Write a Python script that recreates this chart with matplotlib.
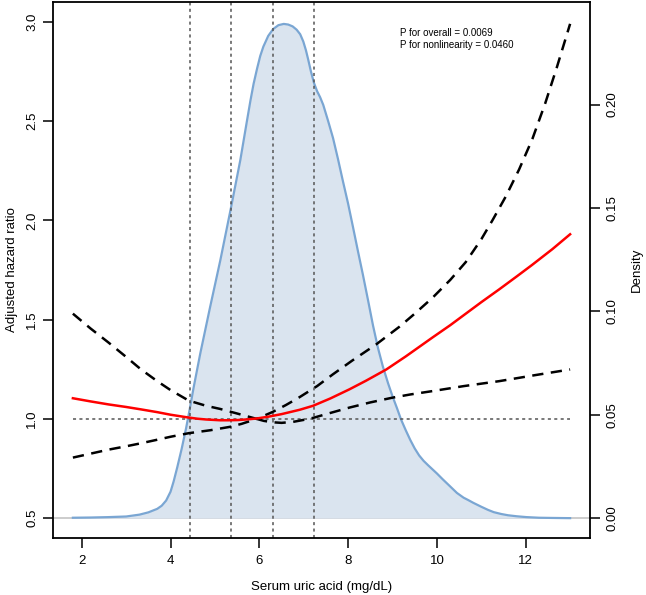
import matplotlib
matplotlib.use("Agg")
import matplotlib.pyplot as plt

plt.rcParams['font.family'] = ['Liberation Sans', 'DejaVu Sans']

# serum uric acid density (mg/dL, density)
dens_x = [1.8, 2.2, 2.6, 3.0, 3.3, 3.5, 3.7, 3.8, 3.9, 4.0, 4.07, 4.15, 4.25, 4.35, 4.43,
          4.52, 4.67, 4.89, 5.12, 5.36, 5.57, 5.72, 5.8, 5.87, 5.95, 6.02, 6.09, 6.2, 6.31,
          6.43, 6.55, 6.65, 6.75, 6.84, 6.92, 6.99, 7.05, 7.1, 7.16, 7.23, 7.3, 7.37, 7.44,
          7.55, 7.66, 7.77, 7.88, 8.0, 8.11, 8.22, 8.33, 8.45, 8.56, 8.67, 8.78, 8.9, 9.0,
          9.1, 9.19, 9.3, 9.4, 9.5, 9.6, 9.7, 9.8, 9.9, 10.0, 10.13, 10.3, 10.45, 10.6, 10.7,
          10.82, 11.0, 11.15, 11.28, 11.45, 11.6, 11.8, 12.02, 12.3, 12.6, 13.0]
dens_y = [0.0002, 0.0003, 0.0005, 0.0008, 0.0017, 0.0028, 0.0045, 0.006, 0.0085, 0.0128,
          0.0178, 0.0245, 0.0335, 0.0435, 0.0525, 0.0632, 0.0797, 0.102, 0.1246, 0.150,
          0.173, 0.192, 0.202, 0.210, 0.2175, 0.2235, 0.228, 0.2332, 0.2365, 0.2384, 0.239,
          0.2387, 0.2378, 0.2362, 0.234, 0.2305, 0.2262, 0.2218, 0.2162, 0.2105, 0.2065,
          0.2035, 0.1998, 0.192, 0.1838, 0.1738, 0.1632, 0.152, 0.1407, 0.1292, 0.118,
          0.1052, 0.0932, 0.0825, 0.0735, 0.0652, 0.0589, 0.0532, 0.0478, 0.0424, 0.0378,
          0.0337, 0.0303, 0.0277, 0.0256, 0.0236, 0.0216, 0.0188, 0.0153, 0.0122, 0.0099,
          0.0088, 0.0074, 0.0055, 0.0040, 0.0029, 0.0020, 0.0014, 0.0009, 0.0005, 0.0002,
          0.0001, 0.0]

# spline: hazard ratio and 95% CI
hr_x = [1.8, 2.2, 2.6, 3.0, 3.33, 3.7, 4.0, 4.37, 4.6, 4.8, 5.12, 5.3, 5.5, 5.7, 5.94,
        6.2, 6.5, 6.91, 7.21, 7.6, 8.03, 8.4, 8.86, 9.3, 9.9, 10.3, 10.65, 11.0, 11.4,
        11.8, 12.14, 12.6, 13.0]
hr = [1.104, 1.088, 1.073, 1.060, 1.048, 1.034, 1.021, 1.008, 1.001, 0.997, 0.993, 0.993,
      0.994, 0.997, 1.002, 1.011, 1.024, 1.046, 1.066, 1.103, 1.149, 1.192, 1.249, 1.315,
      1.41, 1.472, 1.53, 1.588, 1.652, 1.718, 1.775, 1.855, 1.93]

up_x = [1.8, 2.2, 2.6, 3.0, 3.33, 3.7, 4.0, 4.41, 4.8, 5.12, 5.5, 5.94, 6.3, 6.6, 6.91,
        7.3, 7.66, 8.1, 8.63, 9.16, 9.5, 9.9, 10.3, 10.65, 11.0, 11.25, 11.55, 11.85,
        12.15, 12.44, 12.7, 13.0]
upper = [1.53, 1.455, 1.385, 1.312, 1.25, 1.19, 1.145, 1.092, 1.066, 1.05, 1.027, 1.0,
         1.035, 1.07, 1.11, 1.165, 1.225, 1.295, 1.375, 1.465, 1.53, 1.61, 1.70, 1.79,
         1.905, 2.0, 2.12, 2.256, 2.41, 2.59, 2.77, 2.99]

lo_x = [1.8, 2.2, 2.6, 3.0, 3.33, 3.7, 4.0, 4.41, 4.9, 5.34, 5.6, 5.94, 6.1, 6.3, 6.5,
        6.76, 7.0, 7.21, 7.6, 8.03, 8.5, 9.0, 9.4, 9.9, 10.6, 11.4, 12.2, 13.0]
lower = [0.805, 0.825, 0.845, 0.862, 0.877, 0.895, 0.91, 0.928, 0.943, 0.96, 0.975, 1.0,
         0.99, 0.983, 0.98, 0.985, 0.995, 1.005, 1.03, 1.057, 1.083, 1.107, 1.123, 1.14,
         1.165, 1.19, 1.22, 1.249]

cuts = [4.44, 5.37, 6.30, 7.24]
p_text = ["P for overall = 0.0069", "P for nonlinearity = 0.0460"]

fig = plt.figure(figsize=(6.46, 5.95), dpi=100)
pos = [53 / 646, 1 - 538 / 595, (590 - 53) / 646, (538 - 2) / 595]

axd = fig.add_axes(pos)
ax = fig.add_axes(pos, sharex=axd)
ax.patch.set_visible(False)

# density on the back axes, right scale
axd.axhline(0, color='#c4c4c4', lw=1.2, zorder=1)
axd.fill_between(dens_x, 0, dens_y, color='#dae4ef', lw=0, zorder=2)
axd.plot(dens_x, dens_y, color='#7aa6d3', lw=1.6, zorder=3)
axd.set_ylim(-0.0096, 0.2496)
axd.set_yticks([0.0, 0.05, 0.10, 0.15, 0.20])
axd.set_yticklabels(['0.00', '0.05', '0.10', '0.15', '0.20'], rotation=90, va='center')
axd.yaxis.tick_right()
axd.yaxis.set_label_position('right')
axd.set_ylabel('Density', fontsize=9.5, labelpad=9)
axd.tick_params(axis='y', length=7, width=1.1, pad=5, labelsize=9.5)
axd.tick_params(axis='x', bottom=False, labelbottom=False)
for s in axd.spines.values():
    s.set_visible(False)

# hazard ratio curves
for c in cuts:
    ax.axvline(c, color='#555555', lw=1.1, ls=(0, (2, 2.2)), zorder=2)
ax.plot([1.8, 13.0], [1, 1], color='#555555', lw=1.1, ls=(0, (2, 2.2)), zorder=2)
ax.plot(up_x, upper, color='black', lw=1.8, ls=(0, (4.5, 3)), zorder=3)
ax.plot(lo_x, lower, color='black', lw=1.8, ls=(0, (4.5, 3)), zorder=3)
ax.plot(hr_x, hr, color='red', lw=1.8, zorder=4)

ax.text(9.17, 2.946, p_text[0], fontsize=7, va='center', ha='left')
ax.text(9.17, 2.884, p_text[1], fontsize=7, va='center', ha='left')

ax.set_xlim(1.352, 13.448)
ax.set_ylim(0.4, 3.1)
ax.set_xticks([2, 4, 6, 8, 10, 12])
ax.set_yticks([0.5, 1.0, 1.5, 2.0, 2.5, 3.0])
ax.set_yticklabels(['0.5', '1.0', '1.5', '2.0', '2.5', '3.0'], rotation=90, va='center')
ax.tick_params(axis='both', length=7, width=1.1, pad=5, labelsize=9.5)
ax.tick_params(axis='y', pad=3.5)
ax.set_xlabel('Serum uric acid (mg/dL)', fontsize=9.5, labelpad=10)
ax.set_ylabel('Adjusted hazard ratio', fontsize=9.5, labelpad=6)
for s in ax.spines.values():
    s.set_linewidth(1.3)

fig.savefig('out.png', dpi=100)
